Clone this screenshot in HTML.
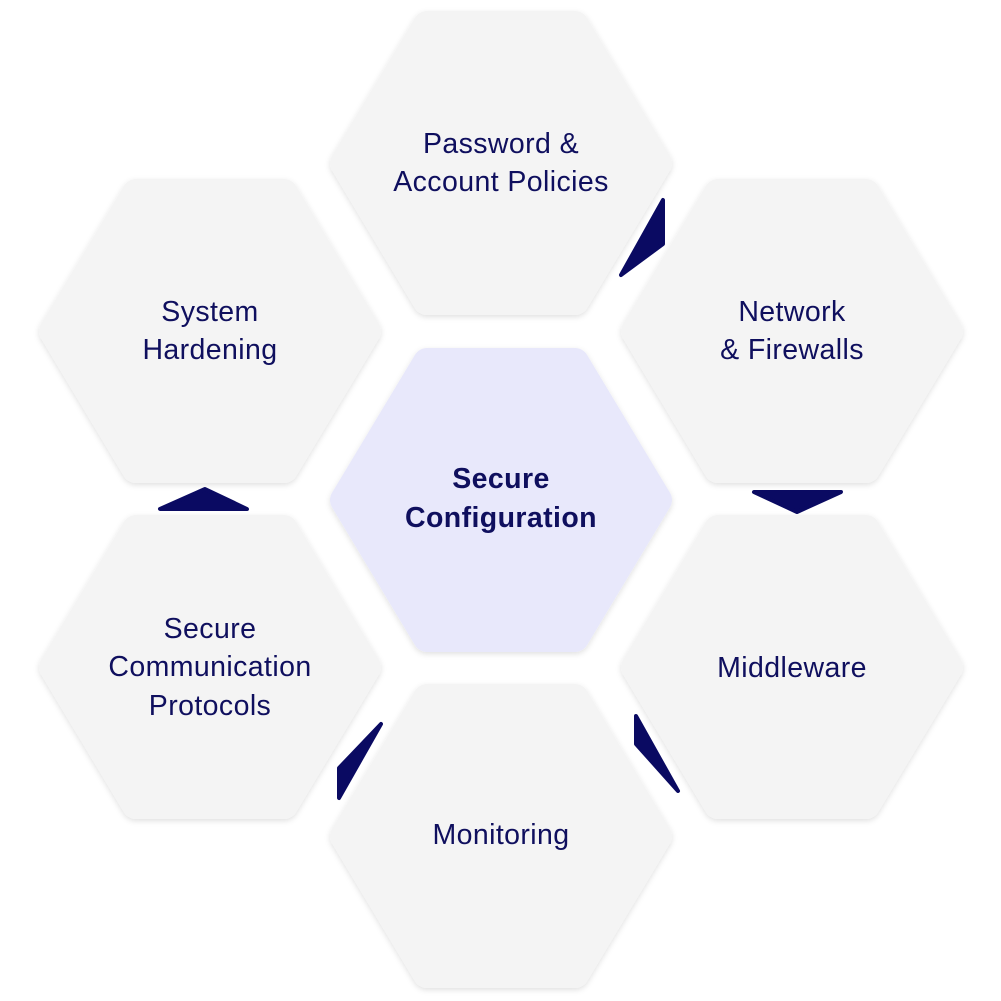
<!DOCTYPE html>
<html><head><style>
body{margin:0;background:#fff;}
svg{display:block;}
text{font-family:"Liberation Sans",sans-serif;font-size:28.5px;letter-spacing:0.4px;fill:#0f0f5e;text-anchor:middle;}
</style></head><body>
<svg width="1001" height="1001" viewBox="0 0 1001 1001">
<defs>
<filter id="sh" x="-20%" y="-20%" width="140%" height="140%"><feDropShadow dx="0" dy="2" stdDeviation="3" flood-color="#000" flood-opacity="0.12"/></filter>
<polygon id="hx" points="-74,-138 74,-138 157,0 74,138 -74,138 -157,0" stroke-width="28" stroke-linejoin="round"/>
</defs>
<g filter="url(#sh)">
<use href="#hx" x="501" y="163" fill="#f4f4f4" stroke="#f4f4f4"/>
<use href="#hx" x="210" y="331" fill="#f4f4f4" stroke="#f4f4f4"/>
<use href="#hx" x="792" y="331" fill="#f4f4f4" stroke="#f4f4f4"/>
<use href="#hx" x="501" y="500" fill="#e8e8fb" stroke="#e8e8fb"/>
<use href="#hx" x="210" y="667" fill="#f4f4f4" stroke="#f4f4f4"/>
<use href="#hx" x="792" y="667" fill="#f4f4f4" stroke="#f4f4f4"/>
<use href="#hx" x="501" y="836" fill="#f4f4f4" stroke="#f4f4f4"/>
</g>
<g fill="#0a0a62" stroke="#0a0a62" stroke-width="4" stroke-linejoin="round">
<polygon points="663,200 663,244 621,275"/>
<polygon points="160,509 247,509 205,489"/>
<polygon points="754,492 841,492 797,512"/>
<polygon points="636,716 678,791 636,744"/>
<polygon points="381,724 339,798 339,768"/>
</g>
<text x="501" y="153">Password &amp;</text>
<text x="501" y="191">Account Policies</text>
<text x="210" y="321">System</text>
<text x="210" y="359">Hardening</text>
<text x="792" y="321">Network</text>
<text x="792" y="359">&amp; Firewalls</text>
<text x="501" y="488" font-weight="bold" letter-spacing="0.2">Secure</text>
<text x="501" y="527" font-weight="bold" letter-spacing="0.2">Configuration</text>
<text x="210" y="638">Secure</text>
<text x="210" y="676">Communication</text>
<text x="210" y="715">Protocols</text>
<text x="792" y="677">Middleware</text>
<text x="501" y="844">Monitoring</text>
</svg>
</body></html>
